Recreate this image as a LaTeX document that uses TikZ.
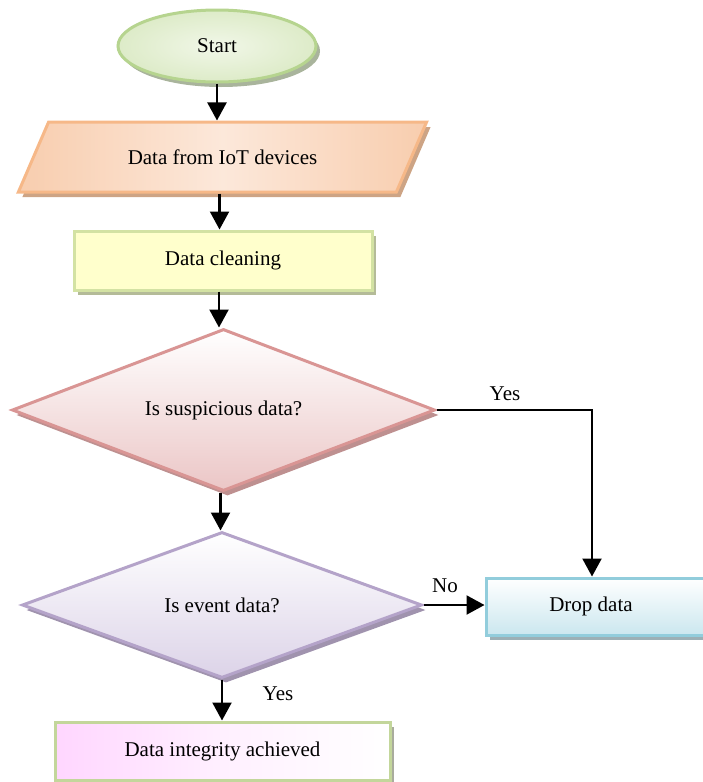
\documentclass[tikz,border=0pt]{standalone}
\usepackage{fontspec}
\setmainfont{Liberation Serif}
\usetikzlibrary{shapes.geometric,shadows,arrows.meta}
\definecolor{stB}{HTML}{B6D48F}
\definecolor{stF}{HTML}{DDEBC8}
\definecolor{stF2}{HTML}{F1F7E8}
\definecolor{stS}{HTML}{A9B49C}
\definecolor{ioB}{HTML}{F6B888}
\definecolor{ioF}{HTML}{F8CDAE}
\definecolor{ioF2}{HTML}{FCE8DA}
\definecolor{ioS}{HTML}{CDA485}
\definecolor{clB}{HTML}{D3E2A3}
\definecolor{clF}{HTML}{FFFFCC}
\definecolor{clS}{HTML}{B4BB98}
\definecolor{q1B}{HTML}{D99594}
\definecolor{q1F}{HTML}{EBC6C6}
\definecolor{q1S}{HTML}{BE9090}
\definecolor{q2B}{HTML}{B4A3C9}
\definecolor{q2F}{HTML}{DCD3E8}
\definecolor{q2S}{HTML}{A093AE}
\definecolor{drB}{HTML}{92CDDC}
\definecolor{drF}{HTML}{CBE7EF}
\definecolor{drS}{HTML}{9CB0B6}
\definecolor{fiB}{HTML}{C3D69B}
\definecolor{fiF}{HTML}{FFD6FF}
\definecolor{fiF2}{HTML}{FFF0FF}
\definecolor{fiS}{HTML}{A9AC9D}
\tikzset{
  box/.style={line width=3pt, font=\fontsize{21}{25}\selectfont, inner sep=2pt},
  shad/.style={drop shadow={shadow xshift=4pt, shadow yshift=-5pt, fill=#1, opacity=1}},
  arr/.style={line width=2.2pt, -{Triangle[width=19pt,length=18pt]}},
  lbl/.style={font=\fontsize{21}{25}\selectfont}
}
\begin{document}
\begin{tikzpicture}[x=1pt,y=-1pt]
\useasboundingbox (0,0) rectangle (702,782);
\node[box, ellipse, draw=stB, inner color=stF2, outer color=stF, shad=stS,
      minimum width=198pt, minimum height=72pt] (start) at (217,46) {Start};
\node[box, trapezium, trapezium left angle=48.5, trapezium right angle=131.5,
      trapezium stretches=true, draw=ioB, left color=ioF, right color=ioF, middle color=ioF2, shad=ioS,
      minimum width=409pt, minimum height=70pt] (io) at (222.5,157) {Data from IoT devices};
\node[box, rectangle, draw=clB, fill=clF, shad=clS,
      minimum width=298pt, minimum height=59pt] (clean) at (223,260.5) {Data cleaning};
\node[box, diamond, aspect=2.6, draw=q1B, top color=white, bottom color=q1F, shad=q1S,
      minimum width=423pt, minimum height=162pt] (q1) at (223.5,410) {Is suspicious data?};
\node[box, diamond, aspect=2.7, draw=q2B, top color=white, bottom color=q2F, shad=q2S,
      minimum width=400pt, minimum height=146pt] (q2) at (222,605) {Is event data?};
\node[box, rectangle, draw=drB, top color=white, bottom color=drF, shad=drS,
      minimum width=224pt, minimum height=57pt] (drop) at (598,606.5) {\hspace*{-14pt}Drop data};
\node[box, rectangle, draw=fiB, left color=fiF, right color=white, middle color=fiF2, shad=fiS,
      minimum width=335pt, minimum height=58pt] (final) at (222.5,751) {Data integrity achieved};

\draw[arr] (start.south) -- (start.south |- io.north);
\draw[arr] ([xshift=-3pt]io.south) -- ([xshift=-3pt]io.south |- clean.north);
\draw[arr] ([xshift=-4pt]clean.south) -- ([xshift=-4pt]clean.south |- q1.north);
\draw[arr] ([xshift=-3pt]q1.south) -- ([xshift=-3pt]q1.south |- q2.north);
\draw[arr] (q2.south) -- (q2.south |- final.north);
\draw[arr] (q1.east) -| ([xshift=-6pt]drop.north);
\draw[arr] (q2.east) -- (q2.east -| drop.west);
\node[lbl] (yes1) at (505,394) {Yes};
\node[lbl] (no) at (445,586) {No};
\node[lbl] (yes2) at (278,694) {Yes};
\end{tikzpicture}
\end{document}
